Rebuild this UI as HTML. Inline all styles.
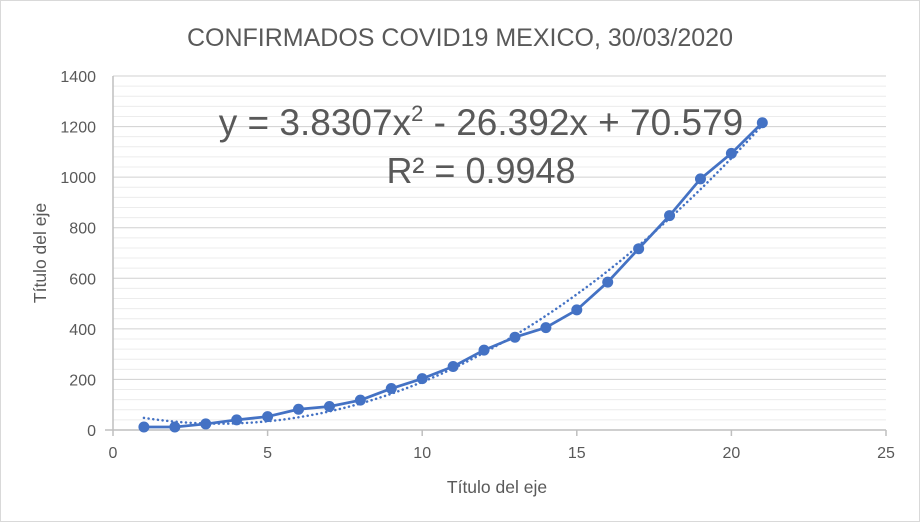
<!DOCTYPE html>
<html><head><meta charset="utf-8"><style>
html,body{margin:0;padding:0;background:#fff;}
svg{display:block;font-family:"Liberation Sans",sans-serif;}
</style></head><body>
<svg id="s" width="920" height="522" viewBox="0 0 920 522" xmlns="http://www.w3.org/2000/svg">
<rect x="0.5" y="0.5" width="919" height="521" fill="#fff" stroke="#d9d9d9"/>
<g id="grid"></g>
<text x="460" y="46" text-anchor="middle" font-size="25" fill="#595959">CONFIRMADOS COVID19 MEXICO, 30/03/2020</text>
<g id="ylab" font-size="16" fill="#595959" text-anchor="end"></g>
<g id="xlab" font-size="16" fill="#595959" text-anchor="middle"></g>
<text x="497" y="493" text-anchor="middle" font-size="17.5" fill="#595959">Título del eje</text>
<text transform="translate(46,253) rotate(-90)" text-anchor="middle" font-size="17.5" fill="#595959">Título del eje</text>
<path id="trend" fill="none" stroke="#4472c4" stroke-width="2.5" stroke-dasharray="0.1 4.6" stroke-linecap="round"/>
<polyline id="line" fill="none" stroke="#4472c4" stroke-width="2.75" stroke-linejoin="round"/>
<g id="pts" fill="#4472c4"></g>
<text x="481" y="135" text-anchor="middle" font-size="37" fill="#595959">y = 3.8307x<tspan dy="-14" font-size="22">2</tspan><tspan dy="14"> - 26.392x + 70.579</tspan></text>
<text x="481" y="183" text-anchor="middle" font-size="36" fill="#595959">R² = 0.9948</text>
</svg>
<script>
var NS="http://www.w3.org/2000/svg";
function X(x){return 113+x*30.92;}
function Y(v){return 430-v*0.25286;}
function el(t,a,p){var e=document.createElementNS(NS,t);for(var k in a)e.setAttribute(k,a[k]);document.getElementById(p).appendChild(e);return e;}
for(var v=40;v<=1400;v+=40){var y=Y(v);el('line',{x1:113,x2:886,y1:y,y2:y,stroke:(v%200==0)?'#d0d0d0':'#ececec','stroke-width':1},'grid');}
el('line',{x1:113,x2:113,y1:Y(1400),y2:430,stroke:'#bfbfbf','stroke-width':1.5},'grid');
el('line',{x1:105,x2:886,y1:430,y2:430,stroke:'#bfbfbf','stroke-width':1.5},'grid');
for(var x=0;x<=25;x+=5){el('line',{x1:X(x),x2:X(x),y1:430,y2:436,stroke:'#bfbfbf','stroke-width':1.5},'grid');var t=el('text',{x:X(x),y:458},'xlab');t.textContent=x;}
for(var v=0;v<=1400;v+=200){var t=el('text',{x:96,y:Y(v)+6},'ylab');t.textContent=v;}
var d=[12,12,24,40,53,82,93,118,164,203,251,316,367,405,475,585,717,848,993,1094,1215];
var pts=[];d.forEach(function(v,i){pts.push(X(i+1)+','+Y(v));el('circle',{cx:X(i+1),cy:Y(v),r:5.5},'pts');});
document.getElementById('line').setAttribute('points',pts.join(' '));
var p='';for(var x=1;x<=21.001;x+=0.25){var v=3.8307*x*x-26.392*x+70.579;p+=(p?'L':'M')+X(x).toFixed(1)+','+Y(v).toFixed(1);}
document.getElementById('trend').setAttribute('d',p);
</script>
</body></html>
